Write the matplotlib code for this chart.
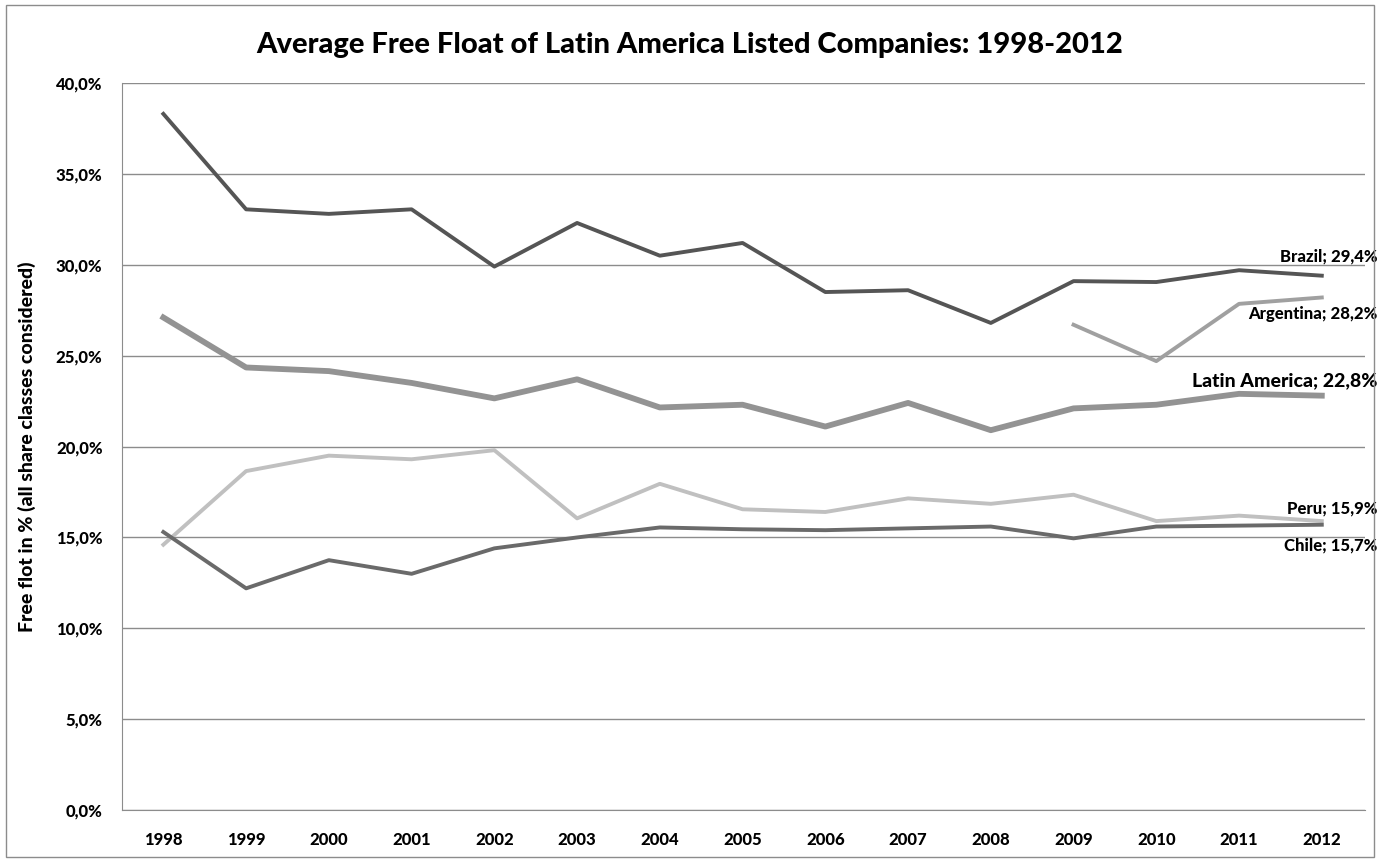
import matplotlib.pyplot as plt
from matplotlib.ticker import FuncFormatter
from matplotlib.patches import Rectangle

plt.rcParams['font.family'] = ['Lato', 'DejaVu Sans']

years = list(range(1998, 2013))
brazil = [38.3, 33.05, 32.8, 33.05, 29.9, 32.3, 30.5, 31.2, 28.5, 28.6, 26.8, 29.1, 29.05, 29.7, 29.4]
argentina_years = [2009, 2010, 2011, 2012]
argentina = [26.7, 24.7, 27.85, 28.2]
latam = [27.1, 24.35, 24.15, 23.5, 22.65, 23.7, 22.15, 22.3, 21.1, 22.4, 20.9, 22.1, 22.3, 22.9, 22.8]
peru = [14.6, 18.65, 19.5, 19.3, 19.8, 16.05, 17.95, 16.55, 16.4, 17.15, 16.85, 17.35, 15.9, 16.2, 15.9]
chile = [15.3, 12.2, 13.75, 13.0, 14.4, 15.0, 15.55, 15.45, 15.4, 15.5, 15.6, 14.95, 15.6, 15.65, 15.7]

fig = plt.figure(figsize=(13.8, 8.6), dpi=100)
# outer chart frame
fig.patches.append(Rectangle((0.004, 0.004), 0.992, 0.99, transform=fig.transFigure,
                             fill=False, edgecolor='#8c8c8c', linewidth=1))
ax = fig.add_axes([0.0884, 0.058, 0.9006, 0.8455])

ax.plot(years, brazil, color='#555555', lw=2.8)
ax.plot(argentina_years, argentina, color='#a0a0a0', lw=2.8)
ax.plot(years, latam, color='#939393', lw=4.2)
ax.plot(years, peru, color='#c0c0c0', lw=2.8)
ax.plot(years, chile, color='#6a6a6a', lw=2.8)

ax.set_xlim(1997.5, 2012.52)
ax.set_ylim(0, 40)
ax.set_xticks(years)
ax.set_yticks(range(0, 41, 5))
ax.yaxis.set_major_formatter(FuncFormatter(lambda v, p: f'{v:.1f}'.replace('.', ',') + '%'))
ax.tick_params(length=0, labelsize=12)
ax.tick_params(axis='x', pad=16)
ax.tick_params(axis='y', pad=14)
for lab in ax.get_xticklabels() + ax.get_yticklabels():
    lab.set_fontweight('black')
ax.grid(axis='y', color='#8c8c8c', lw=1)
ax.set_axisbelow(True)
for s in ['top', 'right']:
    ax.spines[s].set_visible(False)
ax.spines['left'].set_color('#8c8c8c')
ax.spines['bottom'].set_color('#8c8c8c')

ax.set_ylabel('Free flot in % (all share classes considered)', fontsize=14, fontweight='black', labelpad=14)
fig.suptitle('Average Free Float of Latin America Listed Companies: 1998-2012',
             fontsize=21, fontweight='black', x=0.5, y=0.948, va='center')

# end-of-line labels
labels = [('Brazil; 29,4%', brazil[-1], 14, 12),
          ('Argentina; 28,2%', argentina[-1], -12, 12),
          ('Latin America; 22,8%', latam[-1], 11, 14),
          ('Peru; 15,9%', peru[-1], 9, 12),
          ('Chile; 15,7%', chile[-1], -15, 12)]
for txt, val, dy, fs in labels:
    ax.annotate(txt, (2012, val), xytext=(40, dy), textcoords='offset points',
                ha='right', va='center', fontsize=fs, fontweight='black', annotation_clip=False)

fig.savefig('out.png', dpi=100)
